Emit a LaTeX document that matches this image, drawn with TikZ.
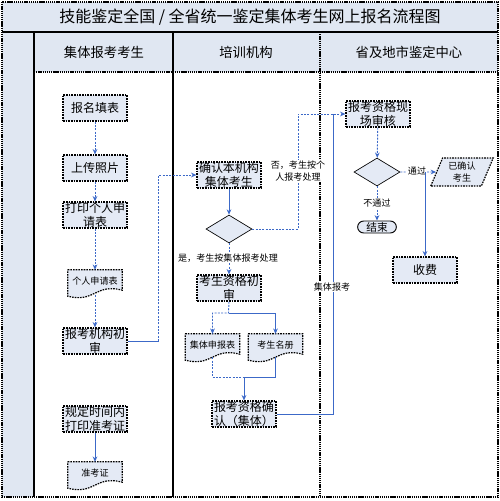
\documentclass[tikz,border=0pt]{standalone}
\usepackage{fontspec}
\setmainfont{Noto Sans CJK SC}
\usetikzlibrary{arrows.meta,positioning,calc,shapes.geometric,backgrounds}
\definecolor{boxfill}{RGB}{228,234,245}
\definecolor{bandfill}{RGB}{224,231,242}
\definecolor{flowblue}{RGB}{60,105,200}
\tikzset{
    >={Stealth[length=4pt,width=3.5pt]},
    every picture/.style={line width=0.5pt},
    boxborder/.style={draw=black,line width=0.9pt,dash pattern=on 1.2pt off 0.8pt},
    procbox/.style={rectangle,boxborder,fill=boxfill,minimum width=48pt,minimum height=19.5pt,
        inner sep=0.5pt,align=center,font=\fontsize{9}{10}\selectfont},
    docbox/.style={rectangle,minimum width=40.5pt,minimum height=17pt,inner sep=0.5pt,
        align=center,font=\fontsize{6.8}{8}\selectfont},
    decision/.style={diamond,draw=black,fill=boxfill,minimum width=34.5pt,minimum height=21pt,inner sep=0pt},
    termbox/.style={rectangle,draw=black,line width=0.7pt,rounded corners=4.5pt,fill=boxfill,
        minimum width=29pt,minimum height=9pt,inner sep=0pt,font=\fontsize{8}{9}\selectfont},
    iobox/.style={trapezium,trapezium left angle=67,trapezium right angle=113,trapezium stretches=true,
        boxborder,fill=boxfill,minimum width=47pt,minimum height=21pt,inner sep=0pt,align=center,
        font=\fontsize{6.8}{8.5}\selectfont},
    flow/.style={draw=flowblue,line width=0.7pt},
    flowdash/.style={flow,dash pattern=on 1.5pt off 1pt},
    notelabel/.style={fill=white,inner sep=0.5pt,align=center,font=\fontsize{6.8}{8.5}\selectfont},
    lanehead/.style={font=\fontsize{10}{12}\selectfont}
}
\newcommand\docoutline[1]{%
    \draw[boxborder,fill=boxfill] (#1.north west) -- (#1.north east) -- ($(#1.south east)+(0,-3)$)
        .. controls ($(#1.south)+(0,-10)$) and ($(#1.south)+(0,10)$) .. ($(#1.south west)+(0,3)$) -- cycle;}
\begin{document}
\begin{tikzpicture}[x=0.75pt,y=-0.75pt]
    \useasboundingbox (0,0) rectangle (500,501);

    % frame and lanes
    \fill[bandfill] (2,2) rectangle (498,32);
    \fill[bandfill] (34,32) rectangle (498,72);
    \fill[bandfill] (2,32) rectangle (34,497);
    \draw[line width=1pt,dash pattern=on 1pt off 0.6pt] (2,2) rectangle (498,497);
    \draw[line width=1pt] (2,32) -- (498,32);
    \draw[line width=0.8pt,dash pattern=on 1pt off 0.6pt] (34,72) -- (498,72);
    \draw[line width=1pt] (34,32) -- (34,497);
    \draw[line width=1pt] (173,32) -- (173,497);
    \draw[line width=1pt,dash pattern=on 1pt off 0.6pt] (320,32) -- (320,497);

    \node[font=\fontsize{12}{14}\selectfont] (title) at (250,17) {技能鉴定全国 / 全省统一鉴定集体考生网上报名流程图};
    \node[lanehead] (laneA) at (104,52) {集体报考考生};
    \node[lanehead] (laneB) at (246,52) {培训机构};
    \node[lanehead] (laneC) at (409,52) {省及地市鉴定中心};

    % candidates
    \node[procbox] (form) at (95,108) {报名填表};
    \node[procbox] (photo) at (95,168) {上传照片};
    \node[procbox] (print) at (95,215) {打印个人申\\请表};
    \node[docbox] (apply) at (95,281.5) {个人申请表};
    \node[procbox] (firstck) at (95,341) {报考机构初\\审};
    \node[procbox] (ticket) at (95,419) {规定时间内\\打印准考证};
    \node[docbox] (card) at (95,473.5) {准考证};

    % training institution
    \node[procbox] (confirm) at (229,175) {确认本机构\\集体考生};
    \node[decision] (diaA) at (229,229) {};
    \node[procbox] (quali) at (229,288) {考生资格初\\审};
    \node[docbox] (grpform) at (212.5,345.5) {集体申报表};
    \node[docbox] (roster) at (275.5,345.5) {考生名册};
    \node[procbox] (confirmB) at (244,414) {报考资格确\\认（集体）};

    % appraisal centre
    \node[procbox] (review) at (378,114) {报考资格现\\场审核};
    \node[decision] (diaB) at (377,172) {};
    \node[iobox] (done) at (462,172) {已确认\\考生};
    \node[termbox] (finish) at (377,227) {结束};
    \node[procbox] (fee) at (425,270) {收费};

    \begin{pgfonlayer}{background}
        \docoutline{apply}
        \docoutline{card}
        \docoutline{grpform}
        \docoutline{roster}
    \end{pgfonlayer}

    % connectors
    \draw[flowdash,->] (form) -- (photo);
    \draw[flowdash,->] (photo) -- (print);
    \draw[flowdash,->] (print) -- (apply);
    \draw[flowdash,->] ($(apply.south)+(0,2)$) -- (firstck);
    \draw[flow,->] (ticket) -- (card);
    \draw[flow] (firstck.east) -- ++(31,0) coordinate (upA);
    \draw[flowdash,->] (upA) |- (confirm.west);

    \draw[flow,->] (confirm) -- (diaA);
    \draw[flowdash,->] (diaA) -- (quali);
    \node[notelabel] (yesA) at (228,258) {是，考生按集体报考处理};
    \draw[flowdash,->] (diaA.east) -- (298,229) |- (review.west);
    \node[notelabel] (noA) at (298,171) {否，考生按个\\人报考处理};

    \coordinate (split) at (228.5,313);
    \draw[flowdash,->] (quali.south) -- (split) -| (grpform.north);
    \draw[flow,->] (split) -| (roster.north);
    \coordinate (merge) at (244,377);
    \draw[flowdash] (grpform.south) |- (merge);
    \draw[flow] (roster.south) |- (merge);
    \draw[flow,->] (merge) -- (confirmB);
    \coordinate (upB) at (333,114);
    \draw[flow] (confirmB.east) -| (upB);
    \node[notelabel] (grpnote) at (332,287) {集体报考};

    \draw[flowdash,->] (review) -- (diaB);
    \draw[flowdash,->] (diaB.east) -- (done.west);
    \node[notelabel] (pass) at (417,171) {通过};
    \draw[flow,->] (diaB.east -| fee.north) -- (fee.north);
    \draw[flowdash,->] (diaB) -- (finish);
    \node[notelabel] (fail) at (377,203) {不通过};
\end{tikzpicture}
\end{document}
